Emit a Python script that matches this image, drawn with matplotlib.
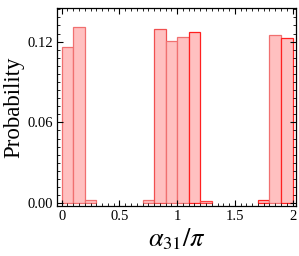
import numpy as np
import matplotlib
matplotlib.use('Agg')
import matplotlib.pyplot as plt
from matplotlib.ticker import MultipleLocator, FormatStrFormatter

# histogram bins (in units of pi) and probabilities
bin_left = [0.0, 0.1, 0.2, 0.7, 0.8, 0.9, 1.0, 1.1, 1.2, 1.7, 1.8, 1.9]
prob = [0.116, 0.131, 0.002, 0.002, 0.1295, 0.1205, 0.1235, 0.127, 0.0015, 0.002, 0.125, 0.1228]
edge_cols = ['#f07070', '#f07070', '#f07070', '#f07070', '#f05050', '#f07070',
             '#f07070', '#ff2020', '#ff4040', '#ff2020', '#f07070', '#ff2020']

plt.rcParams['font.family'] = ['Liberation Serif', 'DejaVu Serif']
plt.rcParams['mathtext.fontset'] = 'stix'

fig = plt.figure(figsize=(2.99, 2.56), dpi=100)
ax = fig.add_axes([0.191, 0.195, 0.799, 0.774])

ax.bar(bin_left, prob, width=0.1, align='edge', color='#ffc0c0',
       edgecolor=edge_cols, linewidth=0.9)

ax.set_xlim(-0.04, 2.03)
ax.set_ylim(-0.0022, 0.145)
ax.xaxis.set_major_locator(MultipleLocator(0.5))
ax.xaxis.set_minor_locator(MultipleLocator(0.05))
ax.yaxis.set_major_locator(MultipleLocator(0.06))
ax.yaxis.set_minor_locator(MultipleLocator(0.006))
ax.yaxis.set_major_formatter(FormatStrFormatter('%.2f'))
ax.set_xticks([0, 0.5, 1, 1.5, 2])
ax.set_xticklabels(['0', '0.5', '1', '1.5', '2'])

ax.tick_params(which='both', direction='in', top=True, right=True, labelsize=10.5, pad=3)
ax.tick_params(which='major', length=4, width=0.8)
ax.tick_params(which='minor', length=2, width=0.6)
for s in ax.spines.values():
    s.set_linewidth(0.9)

ax.set_ylabel('Probability', fontsize=16.5, labelpad=2)
ax.set_xlabel(r'$\alpha_{31}/\pi$', fontsize=19, labelpad=2)

fig.savefig('out.png', dpi=100)
